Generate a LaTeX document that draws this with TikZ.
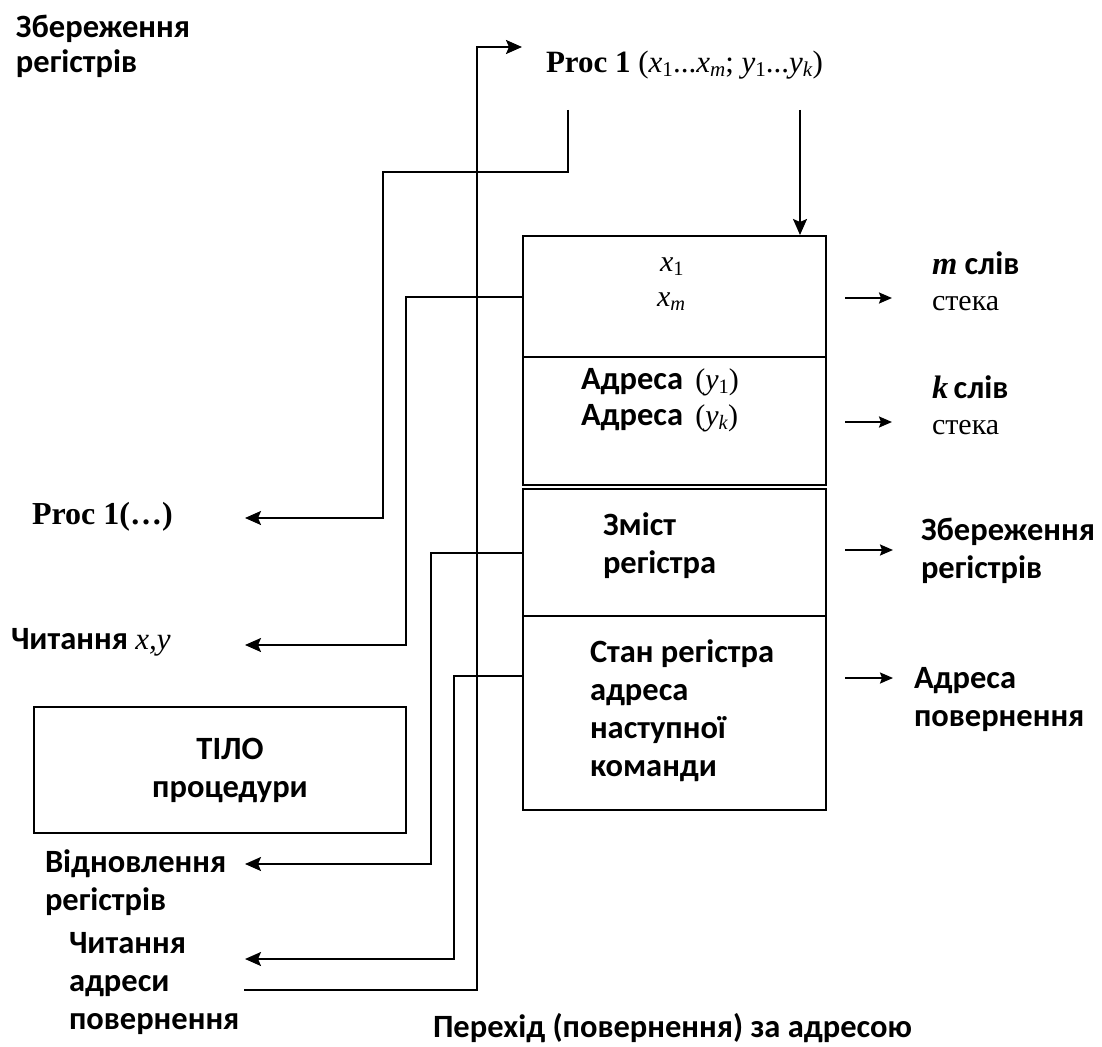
\documentclass[tikz,border=0pt]{standalone}
\usepackage{fontspec}
\usepackage{graphicx}
\setmainfont{Carlito}
\newfontfamily\tms{Liberation Serif}
\usetikzlibrary{arrows.meta}
\newcommand\lo[1]{\raisebox{-0.3ex}{\scalebox{0.68}{#1}}}

\begin{document}
\begin{tikzpicture}[x=1pt,y=-1pt,
  line width=2pt,
  cell/.style={draw, line width=2.2pt, minimum width=303pt, inner sep=0pt, anchor=north west},
  lbl/.style={font=\fontsize{32.5}{38}\selectfont\bfseries, align=left, inner sep=0pt, anchor=west},
  ser/.style={font=\fontsize{30}{34}\selectfont\tms, inner sep=0pt, anchor=west},
  arr/.style={-{Stealth[length=16pt,width=14pt,inset=3pt]}},
  sarr/.style={-{Stealth[length=13pt,width=11pt,inset=2pt]}}]
\path[use as bounding box] (0,0) rectangle (1102,1046);

% stack frame cells
\node[cell, minimum height=121pt] (b1) at (522,235) {};
\node[cell, minimum height=128pt] (b2) at (522,356) {};
\node[cell, minimum height=127pt] (b3) at (522,488) {};
\node[cell, minimum height=194pt] (b4) at (522,615) {};
\node[cell, minimum width=372pt, minimum height=126pt] (body) at (33,706) {};

% cell contents
\node[ser] (x1) at (659,267) {\textit{x}\lo{1}};
\node[ser] (xm) at (656,302) {\textit{x}\lo{\textit{m}}};
\node[lbl, font=\fontsize{32.5}{36}\selectfont\bfseries] (ad) at (580,400)
  {Адреса {\tms\mdseries\fontsize{30}{36}\selectfont\,(\textit{y}\lo{1})}\\Адреса {\tms\mdseries\fontsize{30}{36}\selectfont\,(\textit{y}\lo{\textit{k}})}};
\node[lbl] (zm) at (602,546) {Зміст\\регістра};
\node[lbl] (st) at (589,711) {Стан регістра\\адреса\\наступної\\команди};
\node[lbl, align=center, anchor=center] (bt) at (230,770) {ТІЛО\\процедури};

% headings and side labels
\node[lbl, font=\fontsize{32.5}{35}\selectfont\bfseries] (zb) at (15,46) {Збереження\\регістрів};
\node[ser, font=\fontsize{31}{34}\selectfont\tms] (proc) at (545,65) {\textbf{Proc 1} (\textit{x}\lo{1}...\textit{x}\lo{\textit{m}}; \textit{y}\lo{1}...\textit{y}\lo{\textit{k}})};
\node[ser, font=\fontsize{32}{34}\selectfont\tms] (pc) at (31,517) {\textbf{Proc 1(…)}};
\node[lbl] (rd) at (10,642) {Читання {\tms\mdseries\fontsize{31}{34}\selectfont\textit{x,y}}};
\node[lbl] (vr) at (44,883) {Відновлення\\регістрів};
\node[lbl] (ra) at (68,984) {Читання\\адреси\\повернення};
\node[lbl] (jp) at (432,1028) {Перехід (повернення) за адресою};

\node[lbl] (ms) at (931,281) {{\tms\textit{m}} слів\\[-2pt]{\tms\mdseries\fontsize{30}{34}\selectfont стека}};
\node[lbl] (ks) at (931,405) {{\tms\textit{k}}\,слів\\[-2pt]{\tms\mdseries\fontsize{30}{34}\selectfont стека}};
\node[lbl] (zr) at (920,551) {Збереження\\регістрів};
\node[lbl] (ap) at (913,700) {Адреса\\повернення};

% connector points
\coordinate (p0) at (568,110);
\coordinate (k1) at (383,172);
\coordinate (t1) at (245,518);
\coordinate (k2) at (406,645);
\coordinate (t2) at (245,645);
\coordinate (k3) at (431,864);
\coordinate (t3) at (245,864);
\coordinate (b4p) at (522,676);
\coordinate (k4) at (454,959);
\coordinate (t4) at (245,959);
\coordinate (r0) at (244,990);
\coordinate (k5) at (477,47);
\coordinate (r1) at (522,47);
\coordinate (d0) at (800,110);

% connectors
\draw[arr] (p0) |- (k1) |- (t1);
\draw[arr] (b1.west) -| (k2) -- (t2);
\draw[arr] (b3.west) -| (k3) -- (t3);
\draw[arr] (b4p) -| (k4) -- (t4);
\draw[arr] (r0) -| (k5) -- (r1);
\draw[arr] (d0) -- (d0 |- b1.north);

% outgoing arrows on the right
\coordinate (m0) at (845,298); \coordinate (m1) at (892,298);
\coordinate (n0) at (845,422); \coordinate (n1) at (892,422);
\coordinate (s0) at (845,550); \coordinate (s1) at (893,550);
\coordinate (a0) at (845,678); \coordinate (a1) at (893,678);
\draw[sarr] (m0) -- (m1);
\draw[sarr] (n0) -- (n1);
\draw[sarr] (s0) -- (s1);
\draw[sarr] (a0) -- (a1);
\end{tikzpicture}
\end{document}
